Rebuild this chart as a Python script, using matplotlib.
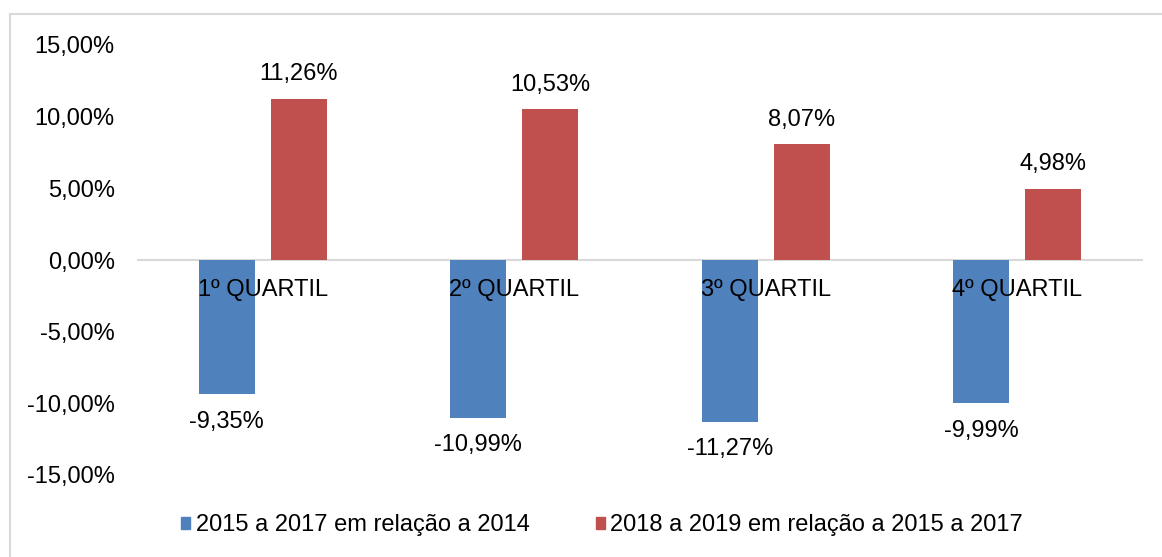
import matplotlib
matplotlib.use("Agg")
import matplotlib.pyplot as plt
from matplotlib.patches import Patch
from matplotlib.lines import Line2D
from matplotlib.ticker import FuncFormatter

CATEGORIES = ["1º QUARTIL", "2º QUARTIL", "3º QUARTIL", "4º QUARTIL"]
SERIES_LABELS = ["2015 a 2017 em relação a 2014", "2018 a 2019 em relação a 2015 a 2017"]
VALUES_2015_2017 = [-9.35, -10.99, -11.27, -9.99]
VALUES_2018_2019 = [11.26, 10.53, 8.07, 4.98]
Y_TICKS = [-15, -10, -5, 0, 5, 10, 15]

BLUE = "#4F81BD"
RED = "#C0504D"
GRAY = "#D9D9D9"
FS = 17
BAR_W = 0.224
OFFSET = 0.143


def pct(v, pos=None):
    return f"{v:.2f}%".replace(".", ",")


plt.rcParams.update({
    "font.family": ["Liberation Sans", "DejaVu Sans"],
    "font.size": FS,
})

fig = plt.figure(figsize=(11.62, 5.57), dpi=100)
W, H = 1162, 557
ax = fig.add_axes([137 / W, 1 - 475 / H, 1006 / W, 430 / H])

# outer frame (light gray, cut by the image edges)
fig.add_artist(Line2D([10 / W, 10 / W], [0, 1 - 14 / H], color=GRAY, lw=1.5, transform=fig.transFigure))
fig.add_artist(Line2D([10 / W, 1], [1 - 14 / H, 1 - 14 / H], color=GRAY, lw=1.5, transform=fig.transFigure))

xs = list(range(len(CATEGORIES)))
ax.bar([x - OFFSET for x in xs], VALUES_2015_2017, width=BAR_W, color=BLUE, zorder=2)
ax.bar([x + OFFSET for x in xs], VALUES_2018_2019, width=BAR_W, color=RED, zorder=2)
ax.axhline(0, color=GRAY, lw=1.5, zorder=1)

for x, v in zip(xs, VALUES_2015_2017):
    ax.text(x - OFFSET, v - 1.95, pct(v), ha="center", va="center", fontsize=FS)
for x, v in zip(xs, VALUES_2018_2019):
    ax.text(x + OFFSET, v + 1.7, pct(v), ha="center", va="center", fontsize=FS)
for x, label in zip(xs, CATEGORIES):
    ax.text(x, -2.1, label, ha="center", va="center", fontsize=FS, zorder=3)

ax.set_xlim(-0.5, len(CATEGORIES) - 0.5)
ax.set_ylim(-15, 15)
ax.set_yticks(Y_TICKS)
ax.yaxis.set_major_formatter(FuncFormatter(pct))
ax.set_xticks([])
ax.tick_params(axis="y", length=0, pad=16, labelsize=FS)
for spine in ax.spines.values():
    spine.set_visible(False)

handles = [Patch(color=BLUE), Patch(color=RED)]
fig.legend(handles, SERIES_LABELS, loc="center", bbox_to_anchor=(602 / W, 1 - 525 / H),
           ncol=2, frameon=False, fontsize=FS, handlelength=0.4, handleheight=0.4,
           handletextpad=0.22, columnspacing=2.8)

fig.savefig("out.png", dpi=100)
